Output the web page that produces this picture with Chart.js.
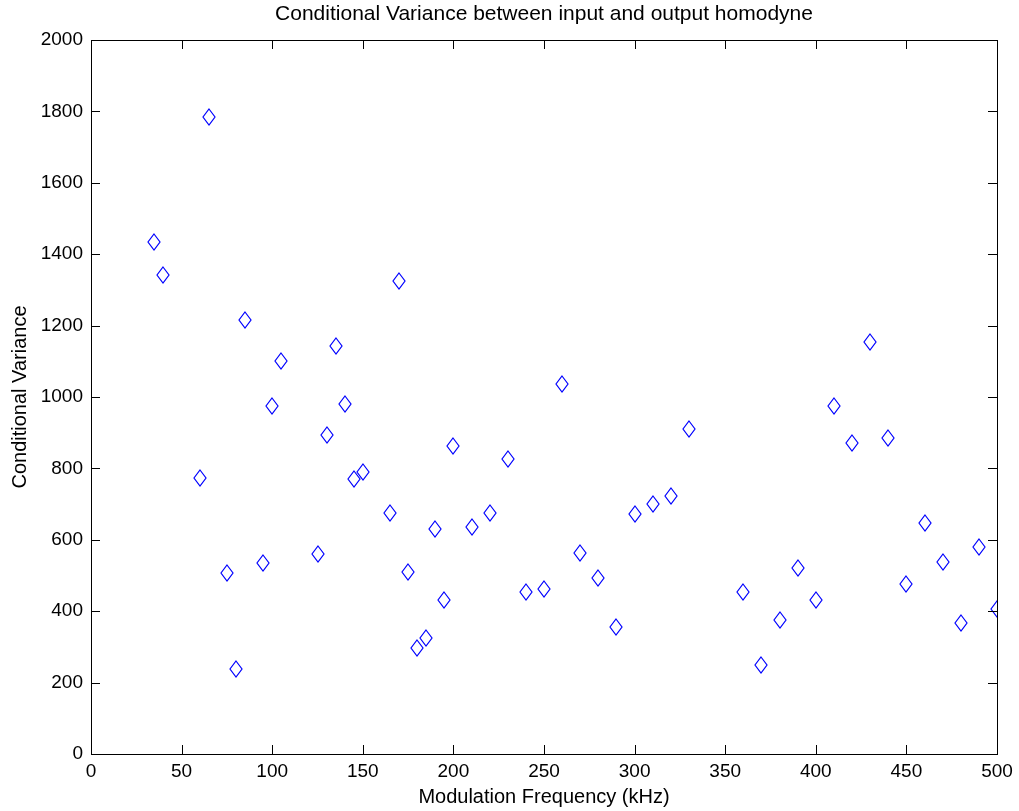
<!DOCTYPE html>
<html>
<head>
<meta charset="utf-8">
<script src="https://cdn.jsdelivr.net/npm/chart.js@4/dist/chart.umd.min.js"></script>
<style>
  html, body { margin: 0; padding: 0; background: #fff; }
  #wrap { width: 1019px; height: 811px; }
</style>
</head>
<body>
<div id="wrap"><canvas id="c" width="1019" height="811"></canvas></div>
<script>
// data
const freqs = [35, 40, 60, 65, 75, 80, 85, 95, 100, 105, 125, 130, 135, 140, 145, 150,
  165, 170, 175, 180, 185, 190, 195, 200, 210, 220, 230, 240, 250, 260, 270, 280, 290,
  300, 310, 320, 330, 360, 370, 380, 390, 400, 410, 420, 430, 440, 450, 460, 470, 480, 490, 500];
const variances = [1434, 1341, 774, 1785, 508, 239, 1216, 536, 976, 1102, 561, 894, 1142, 980, 771, 791,
  676, 1325, 510, 297, 325, 630, 431, 863, 636, 675, 826, 454, 462, 1036, 563, 493, 356,
  672, 700, 723, 910, 455, 249, 374, 522, 431, 975, 872, 1154, 886, 476, 647, 537, 367, 580, 405];
const xTicks = [0, 50, 100, 150, 200, 250, 300, 350, 400, 450, 500];
const yTicks = [0, 200, 400, 600, 800, 1000, 1200, 1400, 1600, 1800, 2000];

const titleText = 'Conditional Variance between input and output homodyne';
const xLabel = 'Modulation Frequency (kHz)';
const yLabel = 'Conditional Variance';
const FONT = '"Liberation Sans", Arial, sans-serif';

// matlab style diamond marker (taller than wide)
function makeDiamond(w, h, color) {
  const cv = document.createElement('canvas');
  cv.width = w + 2; cv.height = h + 2;
  const g = cv.getContext('2d');
  g.strokeStyle = color;
  g.lineWidth = 1.2;
  const cx = cv.width / 2, cy = cv.height / 2;
  g.beginPath();
  g.moveTo(cx, cy - h / 2);
  g.lineTo(cx + w / 2, cy);
  g.lineTo(cx, cy + h / 2);
  g.lineTo(cx - w / 2, cy);
  g.closePath();
  g.stroke();
  return cv;
}
const diamond = makeDiamond(12, 16, '#0000ff');

// frame, inward ticks and title
const framePlugin = {
  id: 'frame',
  beforeDatasetsDraw(chart) {
    chart.ctx.imageSmoothingEnabled = false;
  },
  afterDraw(chart) {
    const { ctx, chartArea: a, scales } = chart;
    ctx.save();
    ctx.strokeStyle = '#000';
    ctx.lineWidth = 1;
    ctx.strokeRect(Math.round(a.left) + 0.5, Math.round(a.top) + 0.5,
      Math.round(a.right - a.left), Math.round(a.bottom - a.top));
    const len = 9;
    ctx.beginPath();
    xTicks.forEach(v => {
      const px = Math.round(scales.x.getPixelForValue(v)) + 0.5;
      ctx.moveTo(px, a.bottom); ctx.lineTo(px, a.bottom - len);
      ctx.moveTo(px, a.top); ctx.lineTo(px, a.top + len);
    });
    yTicks.forEach(v => {
      const py = Math.round(scales.y.getPixelForValue(v)) + 0.5;
      ctx.moveTo(a.left, py); ctx.lineTo(a.left + len, py);
      ctx.moveTo(a.right, py); ctx.lineTo(a.right - len, py);
    });
    ctx.stroke();
    ctx.fillStyle = '#000';
    ctx.font = '21px ' + FONT;
    ctx.textAlign = 'center';
    ctx.textBaseline = 'middle';
    ctx.fillText(titleText, (a.left + a.right) / 2, 14);
    ctx.restore();
  }
};

new Chart(document.getElementById('c'), {
  type: 'scatter',
  data: {
    datasets: [{
      data: freqs.map((f, i) => ({ x: f, y: variances[i] })),
      pointStyle: diamond,
      pointRadius: 8,
      pointHoverRadius: 8
    }]
  },
  options: {
    responsive: false,
    animation: false,
    layout: { padding: { top: 40, right: 22, left: 0, bottom: 0 } },
    plugins: { legend: { display: false }, tooltip: { enabled: false }, title: { display: false } },
    scales: {
      x: {
        type: 'linear', min: 0, max: 500,
        afterBuildTicks: s => { s.ticks = xTicks.map(v => ({ value: v })); },
        afterFit: s => { s.height = 57; },
        grid: { display: false, drawTicks: false },
        border: { display: false },
        ticks: { color: '#000', font: { family: FONT, size: 19 }, padding: 6, maxRotation: 0,
          callback: v => String(v) },
        title: { display: true, text: xLabel, color: '#000', font: { family: FONT, size: 20 },
          padding: { top: 0, bottom: 2 } }
      },
      y: {
        type: 'linear', min: 0, max: 2000,
        afterBuildTicks: s => { s.ticks = yTicks.map(v => ({ value: v })); },
        afterFit: s => { s.width = 91; },
        grid: { display: false, drawTicks: false },
        border: { display: false },
        ticks: { color: '#000', font: { family: FONT, size: 19 }, padding: 8,
          callback: v => String(v) },
        title: { display: true, text: yLabel, color: '#000', font: { family: FONT, size: 20 },
          padding: { top: 8, bottom: 0 } }
      }
    }
  },
  plugins: [framePlugin]
});
</script>
</body>
</html>
